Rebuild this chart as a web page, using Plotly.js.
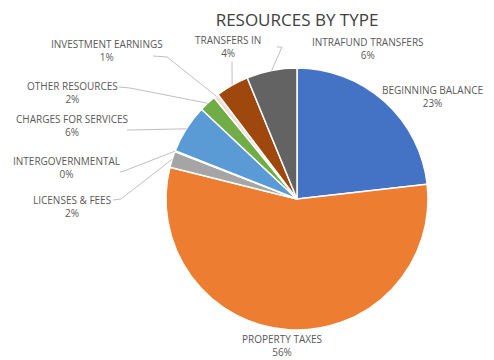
<!DOCTYPE html>
<html><head><meta charset="utf-8">
<script src="https://cdn.plot.ly/plotly-3.0.1.min.js"></script>
<style>html,body{margin:0;padding:0;background:#fff}#chart{width:494px;height:360px}</style>
</head><body><div id="chart"></div>
<script>
const labels = ["BEGINNING BALANCE","PROPERTY TAXES","LICENSES & FEES","INTERGOVERNMENTAL","CHARGES FOR SERVICES","OTHER RESOURCES","INVESTMENT EARNINGS","TRANSFERS IN","INTRAFUND TRANSFERS"];
const values = [23.2, 55.7, 2.0, 0.1, 6.0, 2.1, 0.6, 4.1, 6.2];
const colors = ["#4472C4","#ED7D31","#A5A5A5","#FFC000","#5B9BD5","#70AD47","#EFDCD6","#9E480E","#636363"];

const W = 494, H = 360;
const CX = 297, CY = 199, R = 131;
const px = x => x / W, py = y => 1 - y / H;

// label centres and leader bend points (layout, pixels)
const labelPos = [
  {x:432, y:97, pts:null},
  {x:282, y:345, pts:null},
  {x:72, y:206, pts:[[113,200],[121,199]]},
  {x:66, y:167, pts:[[120,172],[124,171]]},
  {x:72, y:125, pts:[[127,130],[131,130]]},
  {x:72, y:92, pts:[[119,87],[130,88]]},
  {x:107, y:51, pts:[[153,56],[167,57]]},
  {x:228, y:47, pts:[[232,62]]},
  {x:368, y:49, pts:[[277,47],[282,47]]}
];

const total = values.reduce((a,b)=>a+b,0);
const annotations = [];
const shapes = [];
let cum = 0;
values.forEach((v,i)=>{
  const mid = (cum + v/2) / total;
  cum += v;
  const th = mid * 2 * Math.PI;
  const ex = CX + R * Math.sin(th), ey = CY - R * Math.cos(th);
  const pct = Math.round(v / total * 100) + "%";
  const lp = labelPos[i];
  annotations.push({
    xref:"paper", yref:"paper", x:px(lp.x), y:py(lp.y), xanchor:"center", yanchor:"middle",
    text: labels[i] + "<br>" + pct, showarrow:false, align:"center",
    font:{family:"Open Sans, sans-serif", size:10, color:"#595959"}
  });
  if (lp.pts) {
    const all = lp.pts.concat([[ex,ey]]);
    const d = all.map((p,k)=>(k?"L":"M")+px(p[0]).toFixed(5)+","+py(p[1]).toFixed(5)).join(" ");
    shapes.push({type:"path", xref:"paper", yref:"paper", path:d, line:{color:"#BFBFBF", width:1}});
  }
});

const data = [{
  type:"pie", labels:labels, values:values, sort:false, direction:"clockwise", rotation:0,
  marker:{colors:colors, line:{color:"#FFFFFF", width:1.5}},
  textinfo:"none", hoverinfo:"label+percent",
  domain:{x:[px(CX-R), px(CX+R)], y:[py(CY+R), py(CY-R)]}
}];

const layout = {
  width:W, height:H, margin:{l:0,r:0,t:0,b:0}, showlegend:false,
  paper_bgcolor:"#FFFFFF",
  title:{text:"RESOURCES BY TYPE", x:px(297), xanchor:"center", y:py(20), yanchor:"middle",
         font:{family:"Open Sans, sans-serif", size:17, color:"#404040"}},
  annotations:annotations, shapes:shapes
};
Plotly.newPlot("chart", data, layout, {displayModeBar:false, staticPlot:true});
</script></body></html>
